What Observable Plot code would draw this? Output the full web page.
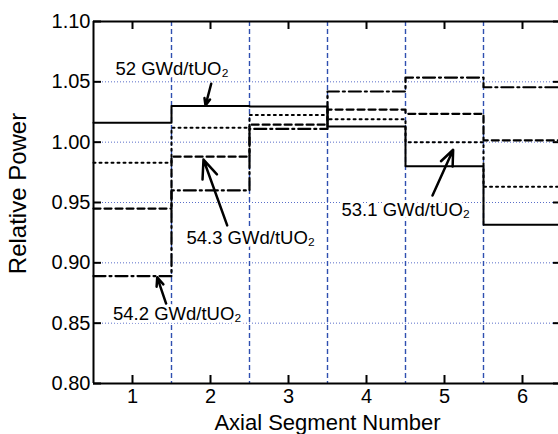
<!DOCTYPE html>
<html><head><meta charset="utf-8">
<script src="https://cdn.jsdelivr.net/npm/d3@7"></script>
<script src="https://cdn.jsdelivr.net/npm/@observablehq/plot@0.6"></script>
<style>
html,body{margin:0;padding:0;background:#fff;overflow:hidden;}
#chart svg{display:block;overflow:hidden;}
</style></head><body><div id="chart"></div>
<script>
// Axial segments
const segments = [1, 2, 3, 4, 5, 6];
// Relative power per segment
const s52  = [1.016, 1.030, 1.0295, 1.013, 0.980, 0.9315];   // solid   - 52 GWd/tUO2
const s531 = [0.983, 1.012, 1.0225, 1.019, 1.000, 0.963];    // dotted  - 53.1 GWd/tUO2
const s543 = [0.945, 0.988, 1.0145, 1.027, 1.0235, 1.0015];  // dashed  - 54.3 GWd/tUO2
const s542 = [0.889, 0.960, 1.011, 1.042, 1.0535, 1.0455];   // dash-dot - 54.2 GWd/tUO2

const xTicks = [1, 2, 3, 4, 5, 6];
const yTicks = [0.80, 0.85, 0.90, 0.95, 1.00, 1.05, 1.10];
const gridY = [0.85, 0.90, 0.95, 1.00, 1.05];
const gridX = [1.5, 2.5, 3.5, 4.5, 5.5];

// Annotations
const annText = ["52 GWd/tUO\u2082", "53.1 GWd/tUO\u2082", "54.3 GWd/tUO\u2082", "54.2 GWd/tUO\u2082"];
const annX = [0.782, 3.68, 1.692, 0.75];
const annY = [1.0553, 0.9392, 0.9158, 0.853];
const arrowX1 = [2.009, 4.846, 2.214, 1.432];
const arrowY1 = [1.0484, 0.9558, 0.931, 0.866];
const arrowX2 = [1.936, 5.111, 1.91, 1.317];
const arrowY2 = [1.0304, 0.9937, 0.9856, 0.888];

function steps(vals) {
  const pts = vals.map((v, i) => ({x: segments[i] - 0.5, y: v}));
  pts.push({x: segments[segments.length - 1] + 0.5, y: vals[vals.length - 1]});
  return pts;
}

const anns = annText.map((t, i) => ({t, x: annX[i], y: annY[i]}));
const arrows = arrowX1.map((x1, i) => ({x1, y1: arrowY1[i], x2: arrowX2[i], y2: arrowY2[i]}));

const xMin = 0.5, xMax = 6.5, yMin = 0.80, yMax = 1.10;

const chart = Plot.plot({
  width: 558,
  height: 434,
  marginLeft: 93,
  marginRight: -3,
  marginTop: 21,
  marginBottom: 51,
  style: {fontFamily: "'Liberation Sans', Arial, sans-serif", fontSize: "20px", background: "#fff", color: "#000"},
  x: {domain: [xMin, xMax], range: [93, 561], label: null},
  y: {domain: [yMin, yMax], range: [383, 21], label: null},
  marks: [
    Plot.ruleY(gridY, {stroke: "#5a6ec8", strokeWidth: 1, strokeDasharray: "1,2"}),
    Plot.ruleX(gridX, {stroke: "#2f4fb0", strokeWidth: 1.4, strokeDasharray: "5,3"}),
    Plot.line(steps(s542), {x: "x", y: "y", curve: "step-after", stroke: "#000", strokeWidth: 2.2, strokeDasharray: "12,4,2,4"}),
    Plot.line(steps(s543), {x: "x", y: "y", curve: "step-after", stroke: "#000", strokeWidth: 2.2, strokeDasharray: "7,4"}),
    Plot.line(steps(s531), {x: "x", y: "y", curve: "step-after", stroke: "#000", strokeWidth: 2, strokeDasharray: "2,4"}),
    Plot.line(steps(s52), {x: "x", y: "y", curve: "step-after", stroke: "#000", strokeWidth: 2}),
    // frame
    Plot.ruleX([xMin, xMax], {stroke: "#000", strokeWidth: 2}),
    Plot.ruleY([yMin, yMax], {stroke: "#000", strokeWidth: 2}),
    // inward ticks
    Plot.ruleY(yTicks, {x1: xMin, x2: xMin, insetRight: -8, stroke: "#000", strokeWidth: 2}),
    Plot.ruleY(yTicks, {x1: xMax, x2: xMax, insetLeft: -8, stroke: "#000", strokeWidth: 2}),
    Plot.ruleX(xTicks, {y1: yMin, y2: yMin, insetTop: -8, stroke: "#000", strokeWidth: 2}),
    Plot.ruleX(xTicks, {y1: yMax, y2: yMax, insetBottom: -8, stroke: "#000", strokeWidth: 2}),
    Plot.axisY({ticks: yTicks, tickFormat: d3.format(".2f"), tickSize: 0, tickPadding: 3, fontSize: 20, label: null}),
    Plot.axisX({ticks: xTicks, tickFormat: d3.format("d"), tickSize: 0, tickPadding: 5, fontSize: 20, label: null}),
    // axis titles
    Plot.text(["Relative Power"], {frameAnchor: "left", textAnchor: "middle", lineAnchor: "middle", rotate: -90, dx: -75, dy: -9, fontSize: 24, fill: "#000"}),
    Plot.text(["Axial Segment Number"], {frameAnchor: "bottom", textAnchor: "middle", lineAnchor: "bottom", dy: 46, fontSize: 22, fill: "#000"}),
    // annotations
    Plot.arrow(arrows, {x1: "x1", y1: "y1", x2: "x2", y2: "y2", stroke: "#000", strokeWidth: 2.5, headLength: 12, headAngle: 45}),
    Plot.text(anns, {x: "x", y: "y", text: "t", textAnchor: "start", lineAnchor: "bottom", fontSize: 18.5, fill: "#000", stroke: "#fff", strokeWidth: 6})
  ]
});
document.getElementById("chart").appendChild(chart);
</script>
</body></html>
